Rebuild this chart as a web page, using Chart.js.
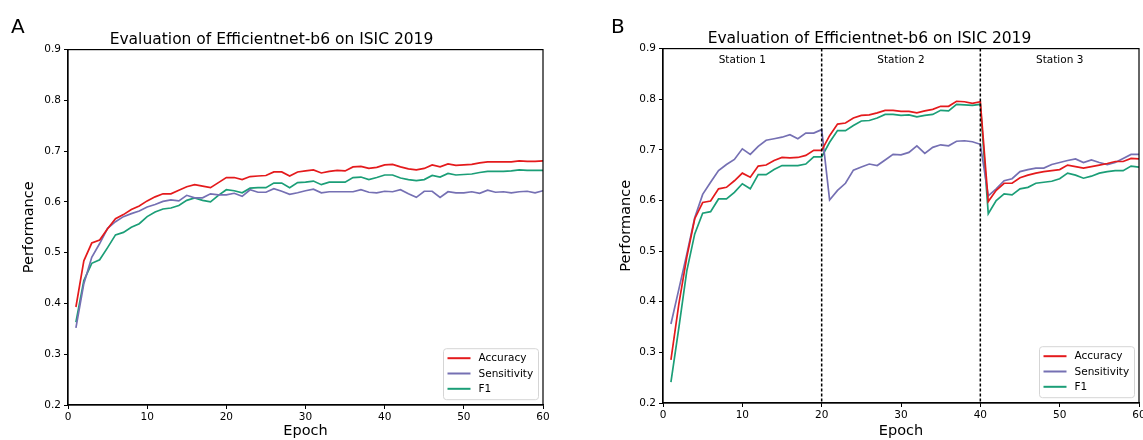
<html>
<head>
<script src="https://cdn.jsdelivr.net/npm/chart.js@4.4.0/dist/chart.umd.min.js"></script>
<style>
body { margin:0; width:1143px; height:440px; overflow:hidden; background:#fff; position:relative; }
canvas { position:absolute; top:0; }
</style>
</head>
<body>
<canvas id="chartA" width="600" height="440" style="left:0px"></canvas>
<canvas id="chartB" width="560" height="440" style="left:600px"></canvas>
<script>
// epochs 1..60
var epochs = Array.from({length: 60}, function(_, i) { return i + 1; });
var seriesNames = ['Accuracy', 'Sensitivity', 'F1'];
var seriesColors = ['#e41a1c', '#7570b3', '#1b9e77'];
var yTicks = [0.2, 0.3, 0.4, 0.5, 0.6, 0.7, 0.8, 0.9];
var xTicks = [0, 10, 20, 30, 40, 50, 60];

// panel A
var accA = [0.393,0.484,0.519,0.525,0.547,0.567,0.575,0.585,0.592,0.602,
            0.610,0.616,0.616,0.623,0.630,0.634,0.631,0.628,0.638,0.648,
            0.648,0.644,0.650,0.651,0.652,0.659,0.659,0.651,0.659,0.661,
            0.663,0.657,0.660,0.662,0.661,0.669,0.670,0.666,0.668,0.673,
            0.674,0.669,0.665,0.663,0.666,0.673,0.669,0.675,0.672,0.673,
            0.674,0.677,0.679,0.679,0.679,0.679,0.681,0.680,0.680,0.681];
var sensA = [0.352,0.439,0.491,0.518,0.548,0.561,0.571,0.577,0.582,0.590,
             0.595,0.601,0.604,0.602,0.613,0.608,0.608,0.616,0.614,0.614,
             0.617,0.611,0.624,0.619,0.619,0.626,0.621,0.615,0.618,0.622,
             0.625,0.618,0.620,0.620,0.620,0.620,0.624,0.619,0.618,0.621,
             0.620,0.624,0.616,0.609,0.621,0.621,0.609,0.620,0.618,0.618,
             0.620,0.617,0.623,0.619,0.620,0.618,0.620,0.621,0.618,0.622];
var f1A = [0.363,0.445,0.479,0.486,0.510,0.535,0.540,0.550,0.557,0.571,
           0.580,0.586,0.588,0.593,0.603,0.608,0.603,0.600,0.613,0.624,
           0.622,0.618,0.627,0.628,0.628,0.637,0.637,0.628,0.638,0.639,
           0.641,0.634,0.639,0.639,0.639,0.648,0.649,0.644,0.648,0.653,
           0.653,0.647,0.644,0.642,0.644,0.652,0.649,0.656,0.653,0.654,
           0.655,0.658,0.660,0.660,0.660,0.661,0.663,0.662,0.662,0.662];

// panel B
var accB = [0.285,0.396,0.488,0.564,0.596,0.599,0.623,0.626,0.639,0.654,
            0.646,0.668,0.670,0.679,0.685,0.684,0.685,0.689,0.699,0.699,
            0.728,0.751,0.753,0.763,0.768,0.769,0.773,0.778,0.778,0.776,
            0.776,0.773,0.777,0.780,0.786,0.786,0.796,0.795,0.792,0.795,
            0.598,0.620,0.634,0.634,0.645,0.650,0.654,0.657,0.659,0.661,
            0.670,0.667,0.664,0.667,0.670,0.673,0.677,0.677,0.683,0.682];
var sensB = [0.356,0.425,0.494,0.566,0.612,0.636,0.659,0.671,0.681,0.702,
             0.691,0.707,0.719,0.722,0.725,0.730,0.722,0.733,0.733,0.740,
             0.601,0.620,0.634,0.660,0.666,0.672,0.669,0.680,0.691,0.690,
             0.695,0.708,0.693,0.705,0.710,0.708,0.717,0.718,0.716,0.711,
             0.609,0.623,0.639,0.643,0.657,0.661,0.664,0.664,0.671,0.675,
             0.679,0.682,0.675,0.680,0.675,0.671,0.675,0.683,0.691,0.691];
var f1B = [0.241,0.349,0.461,0.534,0.575,0.578,0.603,0.603,0.616,0.633,
           0.623,0.651,0.651,0.661,0.669,0.669,0.669,0.672,0.686,0.686,
           0.715,0.738,0.738,0.748,0.757,0.758,0.763,0.770,0.770,0.768,
           0.769,0.765,0.768,0.770,0.778,0.777,0.790,0.789,0.788,0.790,
           0.574,0.600,0.613,0.611,0.623,0.626,0.634,0.636,0.638,0.643,
           0.654,0.650,0.644,0.648,0.654,0.657,0.659,0.659,0.668,0.666];

var stationBounds = [20, 40];
var stationNames = ['Station 1', 'Station 2', 'Station 3'];
var stationCenters = [10, 30, 50];

Chart.defaults.font.family = 'DejaVu Sans';
Chart.defaults.color = '#000';

function toPoints(values) {
    var pts = [];
    for (var i = 0; i < values.length; i++) {
        pts.push({x: epochs[i], y: values[i]});
    }
    return pts;
}

// box around the plot + panel letter
var framePlugin = {
    id: 'frame',
    afterDraw: function(chart, args, opts) {
        var ctx = chart.ctx, a = chart.chartArea;
        ctx.save();
        ctx.strokeStyle = '#000';
        ctx.lineWidth = 1.2;
        ctx.strokeRect(a.left, a.top, a.right - a.left, a.bottom - a.top);
        ctx.fillStyle = '#000';
        ctx.font = '20px DejaVu Sans';
        ctx.textBaseline = 'alphabetic';
        ctx.fillText(opts.letter, 11, 33);
        ctx.restore();
    }
};

var stationPlugin = {
    id: 'stations',
    afterDatasetsDraw: function(chart, args, opts) {
        if (!opts.show) return;
        var ctx = chart.ctx, a = chart.chartArea, xs = chart.scales.x;
        ctx.save();
        ctx.strokeStyle = '#000';
        ctx.lineWidth = 1.5;
        ctx.setLineDash([3, 2]);
        for (var i = 0; i < stationBounds.length; i++) {
            var px = xs.getPixelForValue(stationBounds[i]);
            ctx.beginPath();
            ctx.moveTo(px, a.top);
            ctx.lineTo(px, a.bottom);
            ctx.stroke();
        }
        ctx.setLineDash([]);
        ctx.font = '10.5px DejaVu Sans';
        ctx.textAlign = 'center';
        ctx.textBaseline = 'middle';
        ctx.fillStyle = '#000';
        for (var j = 0; j < stationNames.length; j++) {
            ctx.fillText(stationNames[j], xs.getPixelForValue(stationCenters[j]), a.top + 12);
        }
        ctx.restore();
    }
};

var legendPlugin = {
    id: 'boxLegend',
    afterDraw: function(chart) {
        var ctx = chart.ctx, a = chart.chartArea;
        var w = 95, h = 51;
        var x0 = a.right - 4.5 - w, y0 = a.bottom - 5.3 - h;
        ctx.save();
        ctx.beginPath();
        ctx.roundRect(x0, y0, w, h, 3);
        ctx.fillStyle = 'rgba(255,255,255,0.8)';
        ctx.fill();
        ctx.strokeStyle = '#d5d5d5';
        ctx.lineWidth = 1;
        ctx.stroke();
        ctx.font = '10.5px DejaVu Sans';
        ctx.textBaseline = 'middle';
        var ds = chart.data.datasets;
        for (var i = 0; i < ds.length; i++) {
            var yy = y0 + 9.5 + i * 15.3;
            ctx.strokeStyle = ds[i].borderColor;
            ctx.lineWidth = 2;
            ctx.beginPath();
            ctx.moveTo(x0 + 4, yy);
            ctx.lineTo(x0 + 27, yy);
            ctx.stroke();
            ctx.fillStyle = '#000';
            ctx.fillText(ds[i].label, x0 + 35, yy + 0.5);
        }
        ctx.restore();
    }
};

function makeChart(id, acc, sens, f1, cfg) {
    var vals = [acc, sens, f1];
    var datasets = [];
    for (var i = 0; i < 3; i++) {
        datasets.push({
            label: seriesNames[i],
            data: toPoints(vals[i]),
            borderColor: seriesColors[i],
            backgroundColor: seriesColors[i],
            borderWidth: 1.7,
            pointRadius: 0,
            tension: 0
        });
    }
    return new Chart(document.getElementById(id).getContext('2d'), {
        type: 'line',
        data: {datasets: datasets},
        options: {
            responsive: false,
            animation: false,
            layout: {padding: {left: 0, right: cfg.padRight, top: 0, bottom: 0}},
            plugins: {
                legend: {display: false},
                tooltip: {enabled: false},
                title: {
                    display: true,
                    text: 'Evaluation of Efficientnet-b6 on ISIC 2019',
                    font: {size: 15.5, weight: 'normal'},
                    color: '#000',
                    padding: {top: cfg.titleTop, bottom: 0}
                },
                frame: {letter: cfg.letter},
                stations: {show: cfg.stations}
            },
            scales: {
                x: {
                    type: 'linear',
                    min: 0, max: 60,
                    afterBuildTicks: function(s) { s.ticks = xTicks.map(function(v) { return {value: v}; }); },
                    afterFit: function(s) { s.height = cfg.xHeight; },
                    grid: {display: true, drawOnChartArea: false, drawTicks: true, tickLength: 4, color: '#000', lineWidth: 1},
                    border: {display: true, color: '#000', width: 1.2},
                    ticks: {font: {size: 10.5}, padding: 2, maxRotation: 0, color: '#000'},
                    title: {display: true, text: 'Epoch', font: {size: 14.5}, padding: {top: 0, bottom: 0}, color: '#000'}
                },
                y: {
                    type: 'linear',
                    min: 0.2, max: 0.9,
                    afterBuildTicks: function(s) { s.ticks = yTicks.map(function(v) { return {value: v}; }); },
                    afterFit: function(s) { s.width = cfg.yWidth; },
                    grid: {display: true, drawOnChartArea: false, drawTicks: true, tickLength: 4, color: '#000', lineWidth: 1},
                    border: {display: true, color: '#000', width: 1.2},
                    ticks: {font: {size: 10.5}, padding: 3, color: '#000', callback: function(v) { return v.toFixed(1); }},
                    title: {display: true, text: 'Performance', font: {size: 14.5}, padding: {top: cfg.yTitlePad, bottom: 0}, color: '#000'}
                }
            }
        },
        plugins: [framePlugin, stationPlugin, legendPlugin]
    });
}

var chartA = makeChart('chartA', accA, sensA, f1A,
    {letter: 'A', stations: false, padRight: 57, yWidth: 68, xHeight: 35, titleTop: 31, yTitlePad: 21});
var chartB = makeChart('chartB', accB, sensB, f1B,
    {letter: 'B', stations: true, padRight: 21, yWidth: 63, xHeight: 37, titleTop: 30, yTitlePad: 18});
</script>
</body>
</html>
